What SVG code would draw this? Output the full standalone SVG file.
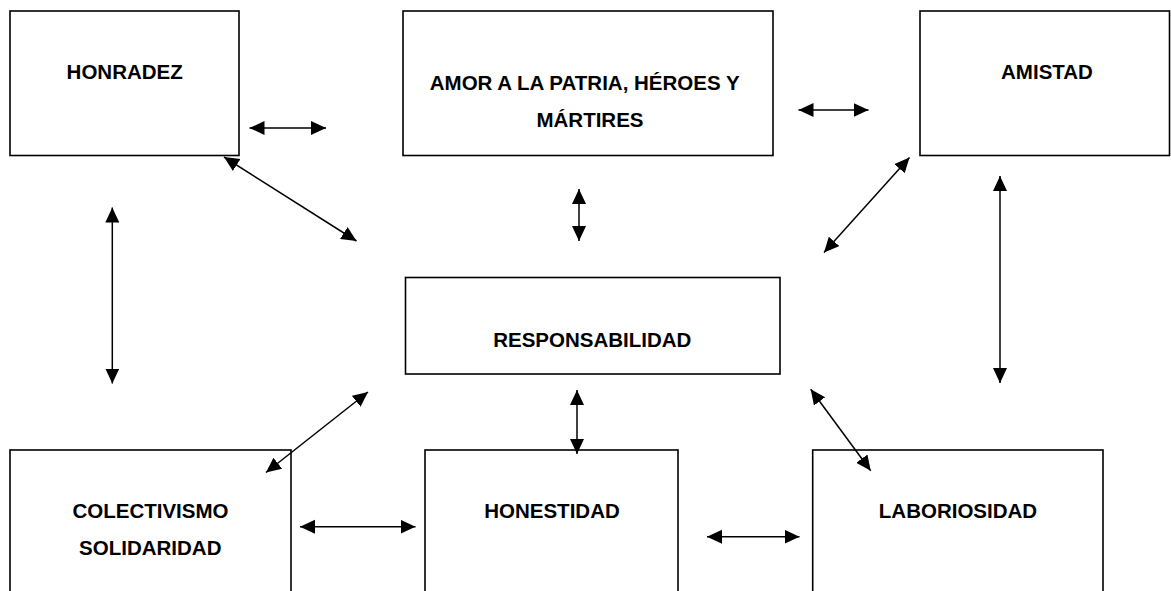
<svg xmlns="http://www.w3.org/2000/svg" width="1171" height="591" viewBox="0 0 1171 591">
<style>
.box{fill:#fff;stroke:#000;stroke-width:1.6}
.lbl{font-family:"Liberation Sans",Arial,sans-serif;font-weight:bold;font-size:20.5px;fill:#000;text-anchor:middle}
.con{stroke:#000;stroke-width:1.5;fill:none;marker-start:url(#ah);marker-end:url(#ah)}
</style>
<defs>
<marker id="ah" markerUnits="userSpaceOnUse" markerWidth="16" markerHeight="15" refX="15" refY="7" orient="auto-start-reverse" viewBox="0 0 16 15">
<path d="M0,0 L15,7 L0,14 z" fill="#000"/>
</marker>
</defs>
<rect width="1171" height="591" fill="#fff"/>
<g id="honradez"><rect class="box" x="10" y="11" width="229" height="144.5"/><text class="lbl" x="124.7" y="79">HONRADEZ</text></g>
<g id="amor"><rect class="box" x="403" y="11" width="370" height="144.5"/><text class="lbl" x="584.7" y="90">AMOR A LA PATRIA, HÉROES Y</text><text class="lbl" x="590" y="127.3">MÁRTIRES</text></g>
<g id="amistad"><rect class="box" x="920" y="11" width="249.5" height="144.5"/><text class="lbl" x="1047" y="79">AMISTAD</text></g>
<g id="responsabilidad"><rect class="box" x="405.5" y="277.5" width="374.5" height="96.5"/><text class="lbl" x="592.3" y="347.3">RESPONSABILIDAD</text></g>
<g id="colectivismo"><rect class="box" x="10" y="450" width="281" height="160"/><text class="lbl" x="150.5" y="517.7">COLECTIVISMO</text><text class="lbl" x="150.3" y="555">SOLIDARIDAD</text></g>
<g id="honestidad"><rect class="box" x="425" y="450" width="253" height="160"/><text class="lbl" x="552" y="517.7">HONESTIDAD</text></g>
<g id="laboriosidad"><rect class="box" x="812.7" y="450" width="290.3" height="160"/><text class="lbl" x="958" y="517.7">LABORIOSIDAD</text></g>
<g id="connectors">
<line class="con" x1="249.5" y1="128" x2="326" y2="128"/>
<line class="con" x1="798.5" y1="110" x2="868.5" y2="110"/>
<line class="con" x1="224" y1="157" x2="356.5" y2="241"/>
<line class="con" x1="579" y1="189" x2="579" y2="241"/>
<line class="con" x1="909.5" y1="157.5" x2="824" y2="252.5"/>
<line class="con" x1="1000" y1="176" x2="1000" y2="383"/>
<line class="con" x1="112.3" y1="207.5" x2="112.3" y2="383.5"/>
<line class="con" x1="368" y1="392" x2="266" y2="472.5"/>
<line class="con" x1="577" y1="390" x2="577" y2="454"/>
<line class="con" x1="300" y1="526.7" x2="415.5" y2="526.7"/>
<line class="con" x1="707" y1="536.7" x2="799.5" y2="536.7"/>
<line class="con" x1="810.7" y1="389.3" x2="870.7" y2="470.7"/>
</g>
</svg>
